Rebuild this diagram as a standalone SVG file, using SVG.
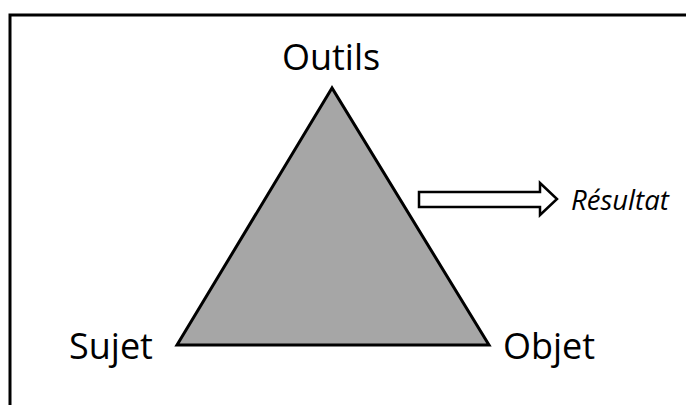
<svg xmlns="http://www.w3.org/2000/svg" width="686" height="405" viewBox="0 0 686 405">
<style>
.lbl{font-family:"Open Sans","Liberation Sans",sans-serif;font-size:36px;fill:#000}
.res{font-family:"Open Sans","Liberation Sans",sans-serif;font-size:27.5px;font-style:italic;fill:#000}
</style>
<rect width="686" height="405" fill="#fff"/>
<rect x="10" y="15" width="700" height="420" fill="none" stroke="#000" stroke-width="3"/>
<g id="triangle">
<polygon points="332,88 177,345 489,345" fill="#a6a6a6" stroke="#000" stroke-width="3" stroke-linejoin="miter"/>
</g>
<g id="outils"><text class="lbl" x="331" y="69.5" text-anchor="middle">Outils</text></g>
<g id="sujet"><text class="lbl" x="69" y="358.5">Sujet</text></g>
<g id="objet"><text class="lbl" x="503" y="358.5">Objet</text></g>
<g id="resultat"><text class="res" x="571" y="210">Résultat</text></g>
<g id="connectors">
<polygon points="419,192 540,192 540,183 557,199 540,215 540,207 419,207" fill="#fff" stroke="#000" stroke-width="2.5"/>
</g>
</svg>
